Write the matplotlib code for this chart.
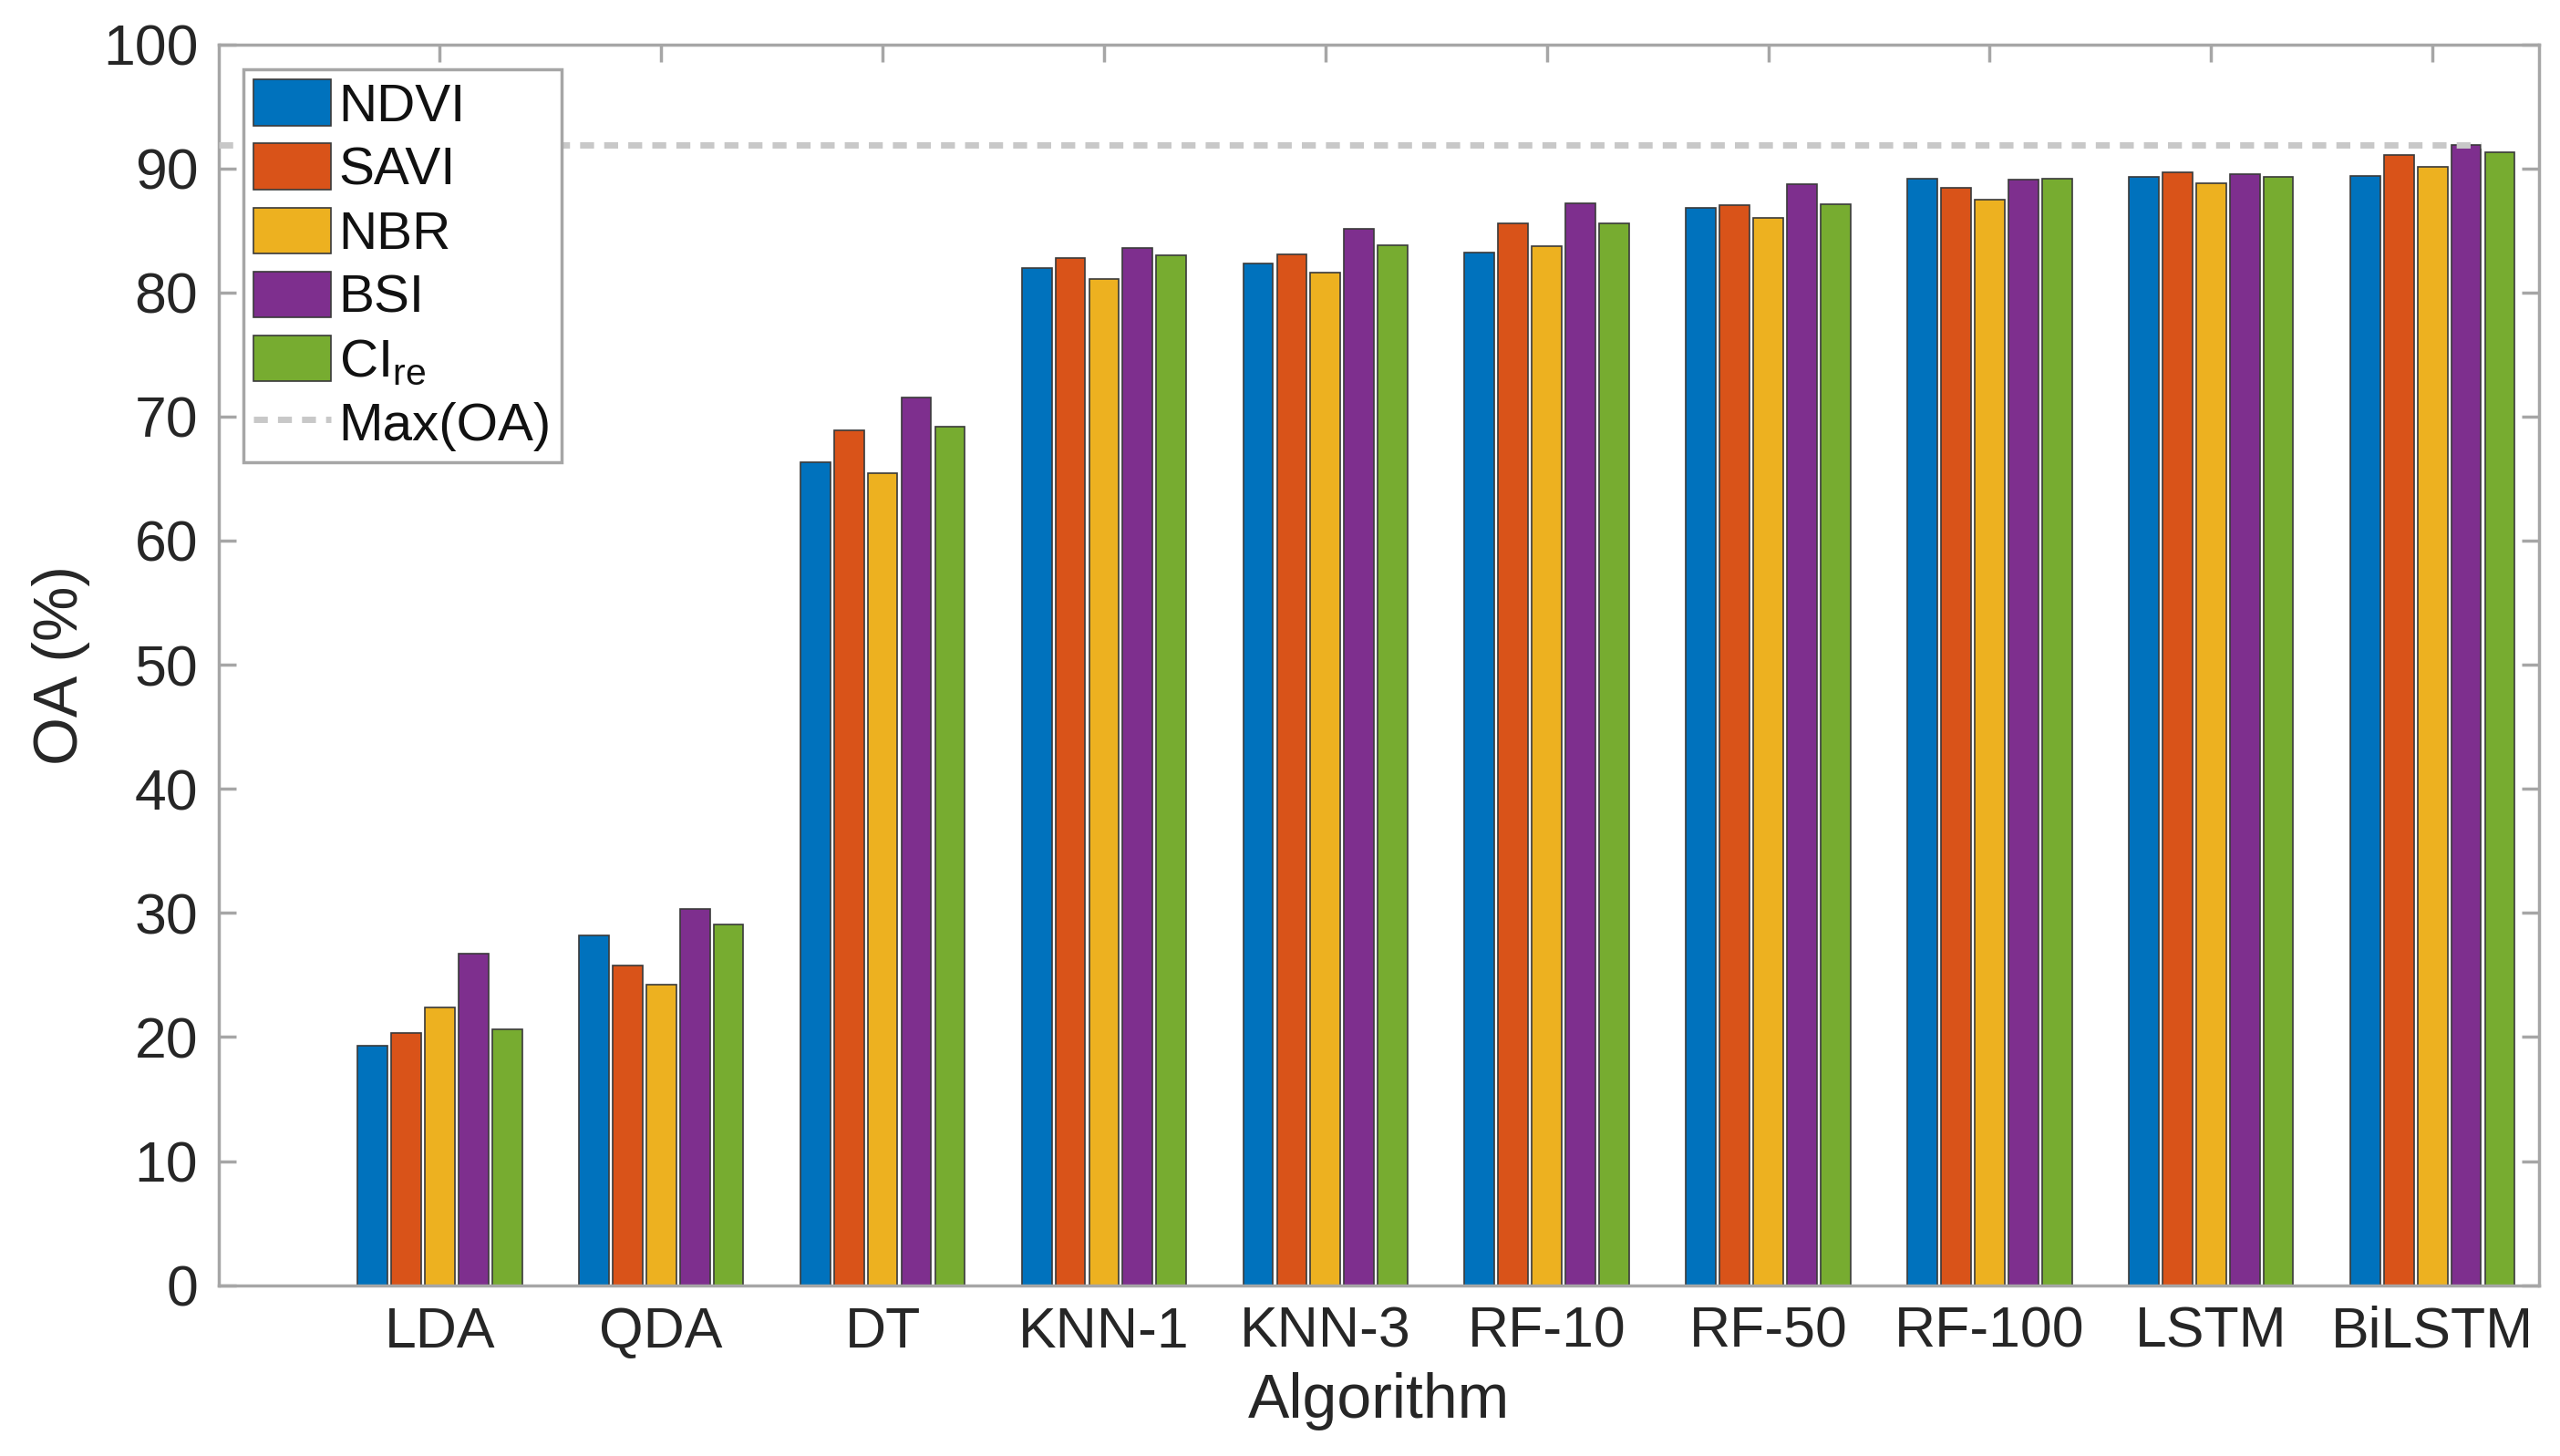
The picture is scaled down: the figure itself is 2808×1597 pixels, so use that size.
import numpy as np
import matplotlib
matplotlib.use("Agg")
from matplotlib import pyplot as plt

plt.rcParams['font.family'] = ['Liberation Sans', 'DejaVu Sans']

algorithms = ['LDA', 'QDA', 'DT', 'KNN-1', 'KNN-3', 'RF-10', 'RF-50', 'RF-100', 'LSTM', 'BiLSTM']
indices = ['NDVI', 'SAVI', 'NBR', 'BSI', 'CI$_{\\mathregular{re}}$']

ndvi = [19.3, 28.2, 66.3, 82.0, 82.3, 83.2, 86.8, 89.2, 89.3, 89.4]
savi = [20.3, 25.8, 68.9, 82.8, 83.1, 85.6, 87.0, 88.4, 89.7, 91.1]
nbr = [22.4, 24.2, 65.4, 81.1, 81.6, 83.7, 86.0, 87.5, 88.8, 90.1]
bsi = [26.7, 30.3, 71.5, 83.6, 85.1, 87.2, 88.7, 89.1, 89.5, 91.9]
cire = [20.6, 29.1, 69.2, 83.0, 83.8, 85.6, 87.1, 89.2, 89.3, 91.3]

colors = ['#0072BD', '#D95319', '#EDB120', '#7E2F8E', '#77AC30']

series = [ndvi, savi, nbr, bsi, cire]
x = np.arange(1, len(algorithms) + 1)
pitch = 0.152
width = 0.135

fig = plt.figure(figsize=(28.08, 15.97), dpi=100)
ax = fig.add_axes([0.0853, 0.1173, 0.9064, 0.8523])

handles = []
for i, (vals, name, col) in enumerate(zip(series, indices, colors)):
    offset = (i - 2) * pitch
    b = ax.bar(x + offset, vals, width, color=col, edgecolor='#3a3a3a', linewidth=1.2,
               label=name, zorder=2)
    handles.append(b)

# max OA line, from left edge to the best bar
all_vals = np.array(series)
best = all_vals.max()
bi, bj = np.unravel_index(all_vals.argmax(), all_vals.shape)
x_end = x[bj] + (bi - 2) * pitch + width / 2
line, = ax.plot([0, x_end], [best, best], linestyle=(0, (2.2, 1.6)), color='#c8c8c8',
                linewidth=5, label='Max(OA)', zorder=3)
handles.append(line)

ax.set_xlim(0, 10.48)
ax.set_ylim(0, 100)
ax.set_xticks(x)
ax.set_xticklabels(algorithms)
ax.set_yticks(np.arange(0, 101, 10))

for s in ax.spines.values():
    s.set_color('#a6a6a6')
    s.set_linewidth(2.5)
ax.tick_params(direction='in', length=14, width=2.5, color='#a6a6a6',
               labelsize=45, labelcolor='#262626', top=True, right=True, pad=16)

ax.set_xlabel('Algorithm', fontsize=49, color='#262626', labelpad=10)
ax.set_ylabel('OA (%)', fontsize=49, color='#262626', labelpad=10)

leg = ax.legend(handles=handles, loc='upper left', bbox_to_anchor=(0.0106, 0.980),
                fontsize=42, frameon=True, fancybox=False, framealpha=1,
                edgecolor='#a6a6a6', handlelength=1.45, handleheight=0.95,
                handletextpad=0.15, labelspacing=0.22, borderpad=0.2, borderaxespad=0)
leg.get_frame().set_linewidth(2.5)
leg.set_zorder(5)
for t in leg.get_texts():
    t.set_color('#111111')

fig.savefig('out.png', dpi=100, facecolor='white')
